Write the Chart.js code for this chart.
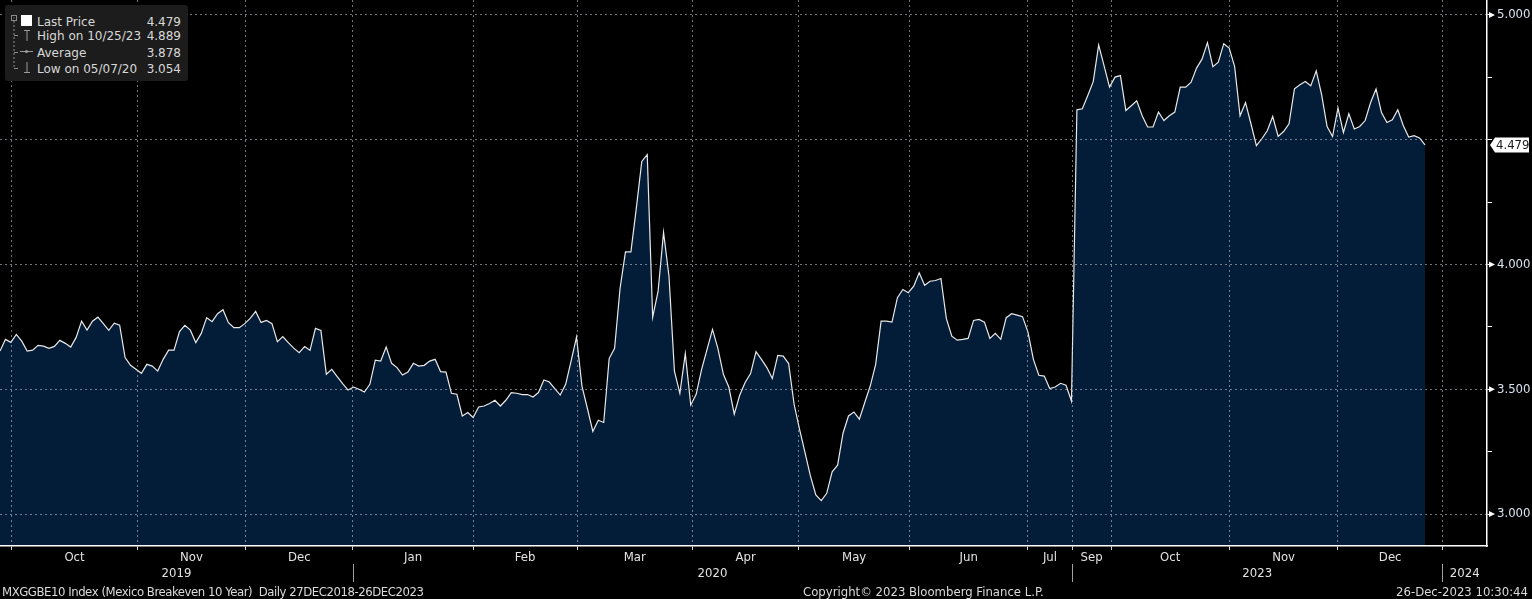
<!DOCTYPE html>
<html>
<head>
<meta charset="utf-8">
<script src="https://cdn.jsdelivr.net/npm/chart.js@4.4.0/dist/chart.umd.min.js"></script>
<style>
  html, body { margin: 0; padding: 0; background: #000; }
  #wrap { position: relative; width: 1532px; height: 599px; overflow: hidden; background: #000; }
  #box { position: absolute; left: 0; top: 0; width: 1532px; height: 599px; }
  .foot {
    position: absolute; top: 584px; height: 15px; line-height: 15px;
    font: 13px "DejaVu Sans Condensed", "Liberation Sans Narrow", "Liberation Sans", sans-serif;
    color: #dadada; white-space: pre;
  }
  #legend {
    position: absolute; left: 5px; top: 5px; width: 183px; height: 76px;
    background: #1c1c1c; border-radius: 3px;
    font: 12px "DejaVu Sans", sans-serif; color: #d8d8d8;
  }
  #legend .row { position: absolute; left: 32px; right: 7px; height: 16px; line-height: 16px; }
  #legend .row .v { position: absolute; right: 0; top: 0; }
  #legend svg { position: absolute; left: 0; top: 0; }
</style>
</head>
<body>
<div id="wrap">
  <div id="box"><canvas id="chart"></canvas></div>
  <div id="legend">
    <svg width="40" height="76">
      <rect x="6.5" y="10.5" width="5" height="5" fill="none" stroke="#8a8a8a"/>
      <line x1="8.5" y1="13" x2="9.5" y2="13" stroke="#8a8a8a"/>
      <line x1="9" y1="16" x2="9" y2="64" stroke="#8a8a8a" stroke-dasharray="2,2"/>
      <line x1="9" y1="30.5" x2="13" y2="30.5" stroke="#8a8a8a"/>
      <line x1="9" y1="47.5" x2="13" y2="47.5" stroke="#8a8a8a"/>
      <line x1="9" y1="63.5" x2="13" y2="63.5" stroke="#8a8a8a"/>
      <rect x="16" y="10" width="11" height="11" fill="#ffffff"/>
      <line x1="19" y1="25.5" x2="25" y2="25.5" stroke="#9a9a9a"/>
      <line x1="22" y1="25" x2="22" y2="36" stroke="#9a9a9a"/>
      <line x1="15" y1="46.5" x2="28" y2="46.5" stroke="#9a9a9a"/>
      <circle cx="21.5" cy="46.5" r="1.6" fill="#9a9a9a"/>
      <line x1="22" y1="57" x2="22" y2="68" stroke="#9a9a9a"/>
      <line x1="19" y1="67.5" x2="25" y2="67.5" stroke="#9a9a9a"/>
    </svg>
  </div>
  <div class="foot" style="left:2px; letter-spacing:-0.45px;">MXGGBE10 Index (Mexico Breakeven 10 Year)  Daily 27DEC2018-26DEC2023</div>
  <div class="foot" style="left:803px;">Copyright© 2023 Bloomberg Finance L.P.</div>
  <div class="foot" style="right:4px;">26-Dec-2023 10:30:44</div>
</div>
<script>
// Weekly readings, split by the three stretches the axis shows
const seg2019 = [
  3.653, 3.700, 3.688, 3.720, 3.693, 3.653, 3.657, 3.676, 3.673, 3.664,
  3.672, 3.696, 3.684, 3.669, 3.708, 3.773, 3.737, 3.773, 3.789, 3.763,
  3.736, 3.765, 3.757, 3.627, 3.596, 3.580, 3.564, 3.600, 3.593, 3.573,
  3.620, 3.657, 3.657, 3.731, 3.756, 3.737, 3.687, 3.724, 3.787, 3.771,
  3.803, 3.819, 3.767, 3.747, 3.747, 3.763, 3.784, 3.812, 3.768, 3.776,
  3.763, 3.691, 3.711, 3.687, 3.665, 3.647, 3.671, 3.656, 3.744, 3.736,
  3.560, 3.580, 3.551, 3.523, 3.497
];
const seg2020 = [
  3.509, 3.500, 3.489, 3.520, 3.617, 3.613, 3.669, 3.604, 3.587, 3.557,
  3.569, 3.604, 3.593, 3.596, 3.613, 3.620, 3.571, 3.569, 3.484, 3.480,
  3.393, 3.407, 3.387, 3.429, 3.433, 3.443, 3.456, 3.433, 3.456, 3.487,
  3.484, 3.479, 3.479, 3.469, 3.487, 3.537, 3.529, 3.503, 3.477, 3.520,
  3.613, 3.709, 3.513, 3.423, 3.331, 3.376, 3.367, 3.623, 3.664, 3.904,
  4.051, 4.051, 4.227, 4.413, 4.440, 3.789, 3.893, 4.129, 3.953, 3.573,
  3.484, 3.643, 3.437, 3.480,
  3.580, 3.660, 3.740, 3.663, 3.560, 3.509, 3.400, 3.476, 3.527, 3.563,
  3.651, 3.620, 3.587, 3.543, 3.636, 3.633, 3.603, 3.440, 3.340, 3.247,
  3.153, 3.077, 3.054, 3.083, 3.169, 3.196, 3.324, 3.393, 3.409, 3.380,
  3.447, 3.513, 3.600, 3.773, 3.773, 3.769, 3.867, 3.900, 3.887, 3.913,
  3.967, 3.917, 3.933, 3.936, 3.944, 3.783, 3.713, 3.697, 3.700, 3.704,
  3.776, 3.780, 3.769, 3.704, 3.724, 3.700, 3.787, 3.803, 3.797, 3.791,
  3.729, 3.620, 3.556, 3.553, 3.503, 3.509, 3.524, 3.516, 3.453
];
const seg2023 = [
  4.620, 4.624, 4.677, 4.733, 4.880, 4.796, 4.711, 4.751, 4.757, 4.617,
  4.636, 4.656, 4.596, 4.551, 4.551, 4.611, 4.577, 4.596, 4.611, 4.711,
  4.711, 4.731, 4.787, 4.823, 4.889, 4.793, 4.811, 4.885, 4.867, 4.793,
  4.596, 4.649, 4.564, 4.476, 4.504, 4.536, 4.593, 4.513, 4.533, 4.564,
  4.704, 4.720, 4.733, 4.716, 4.776, 4.680, 4.553, 4.513, 4.627, 4.529,
  4.604, 4.543, 4.553, 4.577, 4.649, 4.703, 4.609, 4.569, 4.580, 4.620,
  4.557, 4.511, 4.516, 4.507, 4.479
];

// month edges and year edges, in point-index units
const monthBounds = [2.2, 25.2, 45.2, 64.9, 87.0, 106.1, 127.3, 146.9, 167.2, 189.0, 197.1, 204.3, 226.0, 246.0, 265.2];
const monthLabels = ['Oct', 'Nov', 'Dec', 'Jan', 'Feb', 'Mar', 'Apr', 'May', 'Jun', 'Jul', 'Sep', 'Oct', 'Nov', 'Dec'];
const yearBounds = [64.9, 197.1, 265.2];
const yearLabels = ['2019', '2020', '2023', '2024'];
const xMax = 273.4;

const yTicks = [3.0, 3.25, 3.5, 3.75, 4.0, 4.25, 4.5, 4.75, 5.0];
const yMin = 2.872, yMax = 5.06;

const legendLabels = ['Last Price', 'High on 10/25/23', 'Average', 'Low on 05/07/20'];
const legendValues = ['4.479', '4.889', '3.878', '3.054'];

const series = [...seg2019, ...seg2020, ...seg2023];
const lastPrice = series[series.length - 1];

const axisFont = { family: '"DejaVu Sans Condensed", "Liberation Sans Narrow", "Liberation Sans", sans-serif', size: 13 };
const gridColor = 'rgba(185,195,205,0.6)';
const isMajor = v => Math.abs(v * 2 - Math.round(v * 2)) < 1e-6;

// legend rows
const legend = document.getElementById('legend');
legendLabels.forEach((t, i) => {
  const row = document.createElement('div');
  row.className = 'row';
  row.style.top = [9, 23, 40, 56][i] + 'px';
  row.textContent = t;
  const v = document.createElement('span');
  v.className = 'v';
  v.textContent = legendValues[i];
  row.appendChild(v);
  legend.appendChild(row);
});

const extras = {
  id: 'extras',
  afterDraw(chart) {
    const { ctx, scales: { x, y, years } } = chart;
    ctx.save();
    // separators between years
    ctx.strokeStyle = '#a0a0a0';
    ctx.lineWidth = 1;
    yearBounds.forEach(v => {
      const px = Math.round(x.getPixelForValue(v)) + 0.5;
      ctx.beginPath();
      ctx.moveTo(px, years.top);
      ctx.lineTo(px, years.bottom - 2);
      ctx.stroke();
    });
    // little arrows on labelled ticks
    ctx.fillStyle = '#ffffff';
    yTicks.forEach(v => {
      if (!isMajor(v) || Math.abs(v - lastPrice) < 0.06) return;
      const py = y.getPixelForValue(v);
      ctx.beginPath();
      ctx.moveTo(y.left + 2, py - 3);
      ctx.lineTo(y.left + 8, py);
      ctx.lineTo(y.left + 2, py + 3);
      ctx.closePath();
      ctx.fill();
    });
    // last price tag
    const py = y.getPixelForValue(lastPrice);
    const x0 = y.left + 3;
    ctx.fillStyle = '#ffffff';
    ctx.beginPath();
    ctx.moveTo(x0, py);
    ctx.lineTo(x0 + 5, py - 7.5);
    ctx.lineTo(chart.width - 3, py - 7.5);
    ctx.lineTo(chart.width - 3, py + 7.5);
    ctx.lineTo(x0 + 5, py + 7.5);
    ctx.closePath();
    ctx.fill();
    ctx.fillStyle = '#1a1a1a';
    ctx.font = '13px ' + axisFont.family;
    ctx.textBaseline = 'middle';
    ctx.textAlign = 'left';
    ctx.fillText(lastPrice.toFixed(3), x0 + 6, py + 0.5);
    ctx.restore();
  }
};

new Chart(document.getElementById('chart'), {
  type: 'line',
  data: {
    datasets: [{
      data: series.map((v, i) => ({ x: i, y: v })),
      borderColor: '#e8e8e8',
      borderWidth: 1.2,
      backgroundColor: '#031d39',
      fill: 'start',
      pointRadius: 0,
      tension: 0
    }]
  },
  options: {
    responsive: true,
    maintainAspectRatio: false,
    animation: false,
    events: [],
    layout: { autoPadding: false, padding: { left: 0, top: 0, right: 0, bottom: 15 } },
    plugins: { legend: { display: false }, tooltip: { enabled: false } },
    scales: {
      x: {
        type: 'linear', position: 'bottom', weight: 0, min: 0, max: xMax,
        afterBuildTicks: s => { s.ticks = monthBounds.map(v => ({ value: v })); },
        ticks: { display: false },
        grid: { color: gridColor, z: 1, drawTicks: true, tickLength: 4, tickColor: '#d0d0d0', tickWidth: 1 },
        border: { display: true, color: '#ffffff', width: 1.5, dash: [2, 3], z: 1 },
        afterFit: s => { s.height = 4; s.paddingLeft = 0; s.paddingRight = 0; }
      },
      months: {
        type: 'linear', position: 'bottom', weight: 1, min: 0, max: xMax,
        afterBuildTicks: s => {
          s.ticks = monthLabels.map((m, i) => ({ value: (monthBounds[i] + monthBounds[i + 1]) / 2 }));
        },
        ticks: { callback: (v, i) => monthLabels[i], color: '#e2e2e2', font: axisFont, padding: 0, autoSkip: false, maxRotation: 0 },
        grid: { display: false, drawTicks: false },
        border: { display: false },
        afterFit: s => { s.height = 14; s.paddingLeft = 0; s.paddingRight = 0; }
      },
      years: {
        type: 'linear', position: 'bottom', weight: 2, min: 0, max: xMax,
        afterBuildTicks: s => {
          const edges = [0, ...yearBounds, xMax];
          s.ticks = yearLabels.map((t, i) => ({ value: (edges[i] + edges[i + 1]) / 2 }));
        },
        ticks: { callback: (v, i) => yearLabels[i], color: '#e2e2e2', font: axisFont, padding: 2, autoSkip: false, maxRotation: 0 },
        grid: { display: false, drawTicks: false },
        border: { display: false },
        afterFit: s => { s.height = 20; s.paddingLeft = 0; s.paddingRight = 0; }
      },
      y: {
        position: 'right', min: yMin, max: yMax,
        afterBuildTicks: s => { s.ticks = yTicks.map(v => ({ value: v })); },
        ticks: {
          callback: v => (isMajor(v) && Math.abs(v - lastPrice) > 0.06) ? v.toFixed(3) : '',
          color: '#d8e2ee', font: axisFont, padding: 5, autoSkip: false
        },
        grid: {
          color: c => (c.tick && !isMajor(c.tick.value)) ? 'rgba(0,0,0,0)' : gridColor,
          z: 1, drawTicks: true, tickLength: 5, tickColor: '#ffffff', tickWidth: 1
        },
        border: { display: true, color: '#ffffff', width: 1.5, dash: [2, 3], z: 1 },
        afterFit: s => { s.width = 45; s.paddingTop = 0; s.paddingBottom = 0; }
      }
    }
  },
  plugins: [extras]
});
</script>
</body>
</html>
